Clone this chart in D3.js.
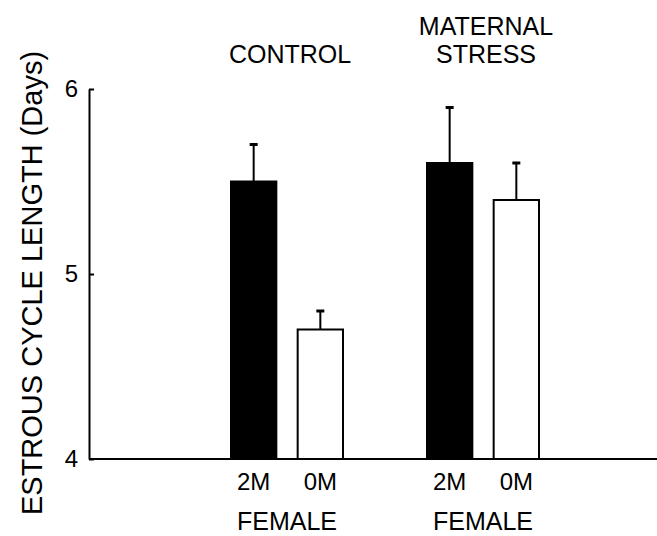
<!DOCTYPE html>
<html>
  <head>
    <meta charset="UTF-8">
    <title>Estrous cycle length</title>
    <style>
      body { margin: 0; background: #fff; }
      text { font-family: 'Liberation Sans', Arial, sans-serif; fill: #000; }
    </style>
  </head>
  <body>
    <div id='chart'></div>
    <script src='https://d3js.org/d3.v7.min.js'></script>
    <script>
      // values
      const groups = ['CONTROL', 'MATERNAL STRESS'];
      const groupLabels = [['CONTROL'], ['MATERNAL', 'STRESS']];
      const subgroups = ['2M', '0M'];
      const means = [[5.5, 4.7], [5.6, 5.4]];
      const errors = [[0.2, 0.1], [0.3, 0.2]];
      const yTicks = [4, 5, 6];
      const yTitle = 'ESTROUS CYCLE LENGTH (Days)';
      const xTitle = 'FEMALE';

      const width = 657;
      const height = 536;

      const svg = d3.select('#chart')
        .append('svg')
        .attr('width', width)
        .attr('height', height);

      const y = d3.scaleLinear()
        .domain([4, 6])
        .range([459, 89]);

      const xGroup = d3.scalePoint()
        .domain(groups)
        .range([287, 483]);

      const xSub = d3.scaleBand()
        .domain(subgroups)
        .range([-56, 56])
        .paddingInner(0.32);

      const bars = [];
      groups.forEach((g, i) => {
        subgroups.forEach((s, j) => {
          bars.push({ group: g, sub: s, value: means[i][j], err: errors[i][j] });
        });
      });

      const barX = (d) => xGroup(d.group) + xSub(d.sub);
      const barMid = (d) => barX(d) + xSub.bandwidth() / 2;

      // error bars (drawn first so the bar top covers the stem)
      svg.append('g')
        .selectAll('line')
        .data(bars)
        .enter().append('line')
        .attr('x1', barMid)
        .attr('x2', barMid)
        .attr('y1', (d) => y(d.value))
        .attr('y2', (d) => y(d.value + d.err))
        .attr('stroke', '#000')
        .attr('stroke-width', 2);

      svg.append('g')
        .selectAll('line')
        .data(bars)
        .enter().append('line')
        .attr('x1', (d) => barMid(d) - 4)
        .attr('x2', (d) => barMid(d) + 4)
        .attr('y1', (d) => y(d.value + d.err))
        .attr('y2', (d) => y(d.value + d.err))
        .attr('stroke', '#000')
        .attr('stroke-width', 3);

      svg.append('g')
        .selectAll('rect')
        .data(bars)
        .enter().append('rect')
        .attr('x', barX)
        .attr('y', (d) => y(d.value))
        .attr('width', xSub.bandwidth())
        .attr('height', (d) => y(4) - y(d.value))
        .attr('fill', (d) => d.sub === '2M' ? '#000' : '#fff')
        .attr('stroke', '#000')
        .attr('stroke-width', 2);

      // y axis, ticks pointing inward
      const yAxis = svg.append('g')
        .attr('transform', `translate(89,0)`)
        .call(d3.axisLeft(y)
          .tickValues(yTicks)
          .tickSizeInner(-5)
          .tickSizeOuter(0)
          .tickPadding(11)
          .tickFormat(d3.format('d')));

      yAxis.select('.domain').attr('stroke-width', 2);
      yAxis.selectAll('.tick line').attr('stroke-width', 2);
      yAxis.selectAll('.tick text')
        .style('font-family', "'Liberation Sans', Arial, sans-serif")
        .attr('font-size', 24);

      // baseline
      svg.append('line')
        .attr('x1', 89)
        .attr('x2', width)
        .attr('y1', y(4))
        .attr('y2', y(4))
        .attr('stroke', '#000')
        .attr('stroke-width', 2);

      svg.append('text')
        .attr('transform', `translate(42,${283}) rotate(-90)`)
        .attr('text-anchor', 'middle')
        .attr('font-size', 29)
        .text(yTitle);

      // sub labels under bars
      svg.append('g')
        .selectAll('text')
        .data(bars)
        .enter().append('text')
        .attr('x', barMid)
        .attr('y', 490)
        .attr('text-anchor', 'middle')
        .attr('font-size', 24)
        .text((d) => d.sub);

      svg.append('g')
        .selectAll('text')
        .data(groups)
        .enter().append('text')
        .attr('x', (d) => xGroup(d))
        .attr('y', 530)
        .attr('text-anchor', 'middle')
        .attr('font-size', 25)
        .text(xTitle);

      // group titles above
      groups.forEach((g, i) => {
        const lines = groupLabels[i];
        lines.forEach((t, k) => {
          svg.append('text')
            .attr('x', xGroup(g) + 3)
            .attr('y', 63 - (lines.length - 1 - k) * 28)
            .attr('text-anchor', 'middle')
            .attr('font-size', 25)
            .text(t);
        });
      });
    </script>
  </body>
</html>
